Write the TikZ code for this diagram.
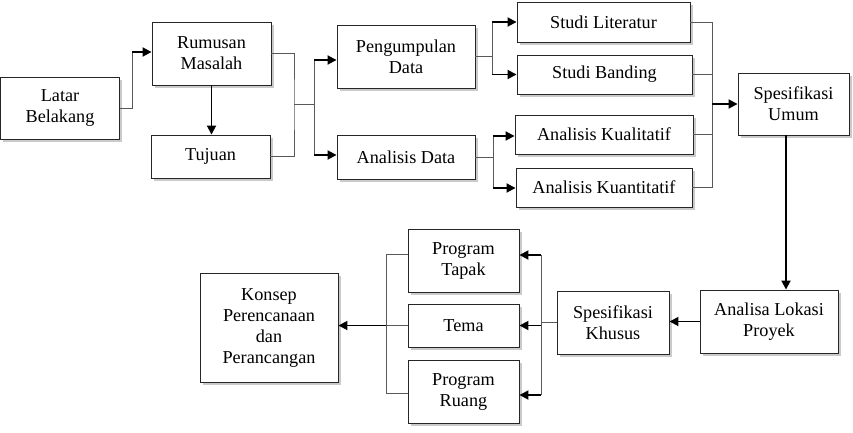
\documentclass[tikz,border=0pt]{standalone}
\usepackage{fontspec}
\setmainfont{Liberation Serif}
\usetikzlibrary{arrows.meta,shadows}

\tikzset{
  box/.style={draw=black!85, line width=0.9pt, fill=white, align=center,
    inner sep=0pt, font=\fontsize{18.2}{21}\selectfont,
    drop shadow={shadow xshift=2.5pt, shadow yshift=-2.5pt, opacity=0.35, fill=black!60}},
  link/.style={draw=black!65, line width=1pt},
  arr/.style={draw=black, line width=1.8pt, -{Triangle[length=9pt,width=9pt]}}
}

\begin{document}
\begin{tikzpicture}[x=1pt,y=-1pt]

    \useasboundingbox (0,0) rectangle (853,432);

    % Boxes of the first row
    \node[box, minimum width=119pt, minimum height=62pt] (latar) at (60,108) {Latar\\Belakang};
    \node[box, minimum width=119pt, minimum height=63pt] (rumusan) at (211.5,53.5) {Rumusan\\Masalah};
    \node[box, minimum width=119pt, minimum height=43pt] (tujuan) at (210.5,156.5) {Tujuan};
    \node[box, minimum width=138pt, minimum height=63pt] (pengumpulan) at (406,56.5) {Pengumpulan\\Data};
    \node[box, minimum width=138pt, minimum height=44pt] (analisis) at (406,157) {Analisis Data};
    \node[box, minimum width=173pt, minimum height=40pt] (literatur) at (603.5,22) {Studi Literatur};
    \node[box, minimum width=175pt, minimum height=39pt] (banding) at (604.5,74.5) {Studi Banding};
    \node[box, minimum width=178pt, minimum height=39pt] (kualitatif) at (604,134.5) {Analisis Kualitatif};
    \node[box, minimum width=176pt, minimum height=39pt] (kuantitatif) at (604,187.5) {Analisis Kuantitatif};
    \node[box, minimum width=111pt, minimum height=62pt] (umum) at (793.5,104) {Spesifikasi\\Umum};

    % Boxes of the second row
    \node[box, minimum width=138pt, minimum height=63pt] (lokasi) at (769,321.5) {Analisa Lokasi\\Proyek};
    \node[box, minimum width=112pt, minimum height=63pt] (khusus) at (613,322.5) {Spesifikasi\\Khusus};
    \node[box, minimum width=111pt, minimum height=63pt] (tapak) at (463.5,260.5) {Program\\Tapak};
    \node[box, minimum width=111pt, minimum height=43pt] (tema) at (463.5,325.5) {Tema};
    \node[box, minimum width=111pt, minimum height=63pt] (ruang) at (463.5,391.5) {Program\\Ruang};
    \node[box, minimum width=138pt, minimum height=109pt] (konsep) at (269,327.5) {Konsep\\Perencanaan\\dan\\Perancangan};

    % Junction points
    \coordinate (j1) at (132,52);
    \coordinate (b1) at (294,104);
    \coordinate (b2) at (314,104);
    \coordinate (b3) at (492,56.5);
    \coordinate (b4) at (493,157);
    \coordinate (b5) at (712,104);
    \coordinate (b6t) at (541,255);
    \coordinate (b6r) at (541,395);
    \coordinate (b7t) at (386,254);
    \coordinate (b7r) at (386,393);

    % Latar Belakang to Rumusan Masalah and Tujuan
    \draw[link] (latar.east) -| (j1);
    \draw[arr] (j1) -- (j1 -| rumusan.west);
    \draw[arr] (rumusan.south) -- (rumusan.south |- tujuan.north);

    % Into Pengumpulan Data and Analisis Data
    \draw[link] (rumusan.east) -| (b1) |- (tujuan.east);
    \draw[link] (b1) -- (b2);
    \draw[link] (b2 |- 0,60) -- (b2 |- 0,155);
    \draw[arr] (b2 |- 0,60) -- (pengumpulan.west |- 0,60);
    \draw[arr] (b2 |- 0,155) -- (analisis.west |- 0,155);

    % Into the studies and the analyses
    \draw[link] (pengumpulan.east) -- (b3);
    \draw[link] (b3 |- literatur) -- (b3 |- banding);
    \draw[arr] (b3 |- literatur) -- (literatur.west);
    \draw[arr] (b3 |- banding) -- (banding.west);
    \draw[link] (analisis.east) -- (b4);
    \draw[link] (b4 |- 0,136) -- (b4 |- 0,188);
    \draw[arr] (b4 |- 0,136) -- (kualitatif.west |- 0,136);
    \draw[arr] (b4 |- 0,188) -- (kuantitatif.west |- 0,188);

    % Into Spesifikasi Umum
    \draw[link] (literatur.east) -| (b5 |- kuantitatif) -- (kuantitatif.east);
    \draw[link] (banding.east) -- (banding.east -| b5);
    \draw[link] (kualitatif.east) -- (kualitatif.east -| b5);
    \draw[arr] (b5) -- (b5 -| umum.west);

    % Down to Analisa Lokasi Proyek and Spesifikasi Khusus
    \draw[arr] ([xshift=-7.5pt]umum.south) -- ([xshift=-7.5pt]umum.south |- lokasi.north);
    \draw[arr] (lokasi.west) -- (lokasi.west -| khusus.east);

    % Into Program Tapak, Tema and Program Ruang
    \draw[link] (khusus.west) -- (khusus.west -| b6t);
    \draw[link] (b6t) -- (b6r);
    \draw[arr] (b6t) -- (b6t -| tapak.east);
    \draw[arr] (b6t |- tema) -- (tema.east);
    \draw[arr] (b6r) -- (b6r -| ruang.east);

    % Into Konsep Perencanaan dan Perancangan
    \draw[link] (b7t -| tapak.west) -- (b7t) -- (b7r) -- (b7r -| ruang.west);
    \draw[link] (tema.west) -- (tema.west -| b7t);
    \draw[arr] (tema.west -| b7t) -- (konsep.east |- tema.west);

\end{tikzpicture}
\end{document}
